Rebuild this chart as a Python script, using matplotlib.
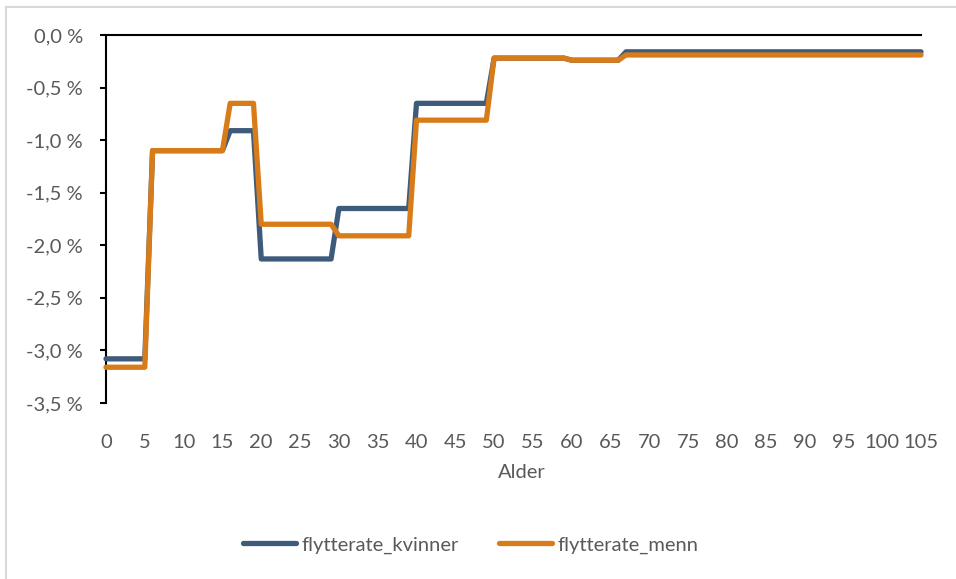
import matplotlib
matplotlib.use("Agg")
import matplotlib.pyplot as plt
from matplotlib.lines import Line2D
from matplotlib.ticker import FuncFormatter, MultipleLocator

plt.rcParams['font.family'] = ['Lato', 'DejaVu Sans']

ages = list(range(0, 106))

flytterate_kvinner = [
    -3.08, -3.08, -3.08, -3.08, -3.08, -3.08, -1.10, -1.10, -1.10, -1.10,
    -1.10, -1.10, -1.10, -1.10, -1.10, -1.10, -0.91, -0.91, -0.91, -0.91,
    -2.13, -2.13, -2.13, -2.13, -2.13, -2.13, -2.13, -2.13, -2.13, -2.13,
    -1.65, -1.65, -1.65, -1.65, -1.65, -1.65, -1.65, -1.65, -1.65, -1.65,
    -0.65, -0.65, -0.65, -0.65, -0.65, -0.65, -0.65, -0.65, -0.65, -0.65,
    -0.22, -0.22, -0.22, -0.22, -0.22, -0.22, -0.22, -0.22, -0.22, -0.22,
    -0.24, -0.24, -0.24, -0.24, -0.24, -0.24, -0.24, -0.16, -0.16, -0.16,
    -0.16, -0.16, -0.16, -0.16, -0.16, -0.16, -0.16, -0.16, -0.16, -0.16,
    -0.16, -0.16, -0.16, -0.16, -0.16, -0.16, -0.16, -0.16, -0.16, -0.16,
    -0.16, -0.16, -0.16, -0.16, -0.16, -0.16, -0.16, -0.16, -0.16, -0.16,
    -0.16, -0.16, -0.16, -0.16, -0.16, -0.16,
]

flytterate_menn = [
    -3.16, -3.16, -3.16, -3.16, -3.16, -3.16, -1.10, -1.10, -1.10, -1.10,
    -1.10, -1.10, -1.10, -1.10, -1.10, -1.10, -0.65, -0.65, -0.65, -0.65,
    -1.80, -1.80, -1.80, -1.80, -1.80, -1.80, -1.80, -1.80, -1.80, -1.80,
    -1.91, -1.91, -1.91, -1.91, -1.91, -1.91, -1.91, -1.91, -1.91, -1.91,
    -0.81, -0.81, -0.81, -0.81, -0.81, -0.81, -0.81, -0.81, -0.81, -0.81,
    -0.22, -0.22, -0.22, -0.22, -0.22, -0.22, -0.22, -0.22, -0.22, -0.22,
    -0.24, -0.24, -0.24, -0.24, -0.24, -0.24, -0.24, -0.19, -0.19, -0.19,
    -0.19, -0.19, -0.19, -0.19, -0.19, -0.19, -0.19, -0.19, -0.19, -0.19,
    -0.19, -0.19, -0.19, -0.19, -0.19, -0.19, -0.19, -0.19, -0.19, -0.19,
    -0.19, -0.19, -0.19, -0.19, -0.19, -0.19, -0.19, -0.19, -0.19, -0.19,
    -0.19, -0.19, -0.19, -0.19, -0.19, -0.19,
]

series_names = ["flytterate_kvinner", "flytterate_menn"]
colors = ["#3E5B7B", "#D87C1A"]
text_color = "#595959"

W, H = 956, 579
fig = plt.figure(figsize=(W / 100, H / 100), dpi=100)
ax = fig.add_axes([106 / W, 1 - 403 / H, 815 / W, 368 / H])

lw = 3.8
for vals, c, z in zip([flytterate_kvinner, flytterate_menn], colors, [3, 4]):
    ax.plot(ages, vals, color=c, lw=lw, solid_capstyle='round',
            solid_joinstyle='round', clip_on=False, zorder=z)

ax.set_xlim(0, 105)
ax.set_ylim(-3.5, 0)
ax.xaxis.set_major_locator(MultipleLocator(5))
ax.yaxis.set_major_locator(MultipleLocator(0.5))
ax.yaxis.set_major_formatter(FuncFormatter(
    lambda v, p: ("%.1f" % v).replace("-0.0", "0.0").replace(".", ",") + " %"))

for s in ['right', 'bottom']:
    ax.spines[s].set_visible(False)
for s in ['left', 'top']:
    ax.spines[s].set_color('black')
    ax.spines[s].set_linewidth(1.5)
    ax.spines[s].set_zorder(2)

fs = 14.5
ax.tick_params(axis='y', direction='out', length=4.5, width=1.5, color='black',
               labelsize=fs, labelcolor=text_color, pad=12)
ax.tick_params(axis='x', length=0, labelsize=fs, labelcolor=text_color, pad=22)

fig.text(522 / W, 1 - 472 / H, "Alder", ha='center', va='center',
         fontsize=fs, color=text_color)

handles = [Line2D([0], [0], color=c, lw=lw, solid_capstyle='round') for c in colors]
leg = fig.legend(handles, series_names, loc='center', bbox_to_anchor=(471 / W, 1 - 545 / H),
                 ncol=2, frameon=False, fontsize=fs, handlelength=2.6,
                 handletextpad=0.3, columnspacing=2.0, labelcolor=text_color)

# chart area border (top and left visible)
border_color = "#D9D9D9"
fig.add_artist(Line2D([6 / W, 6 / W], [0, 1 - 7 / H], color=border_color, lw=1.5,
                      transform=fig.transFigure))
fig.add_artist(Line2D([6 / W, 1], [1 - 7 / H, 1 - 7 / H], color=border_color, lw=1.5,
                      transform=fig.transFigure))

fig.savefig("out.png", dpi=100, facecolor='white')
